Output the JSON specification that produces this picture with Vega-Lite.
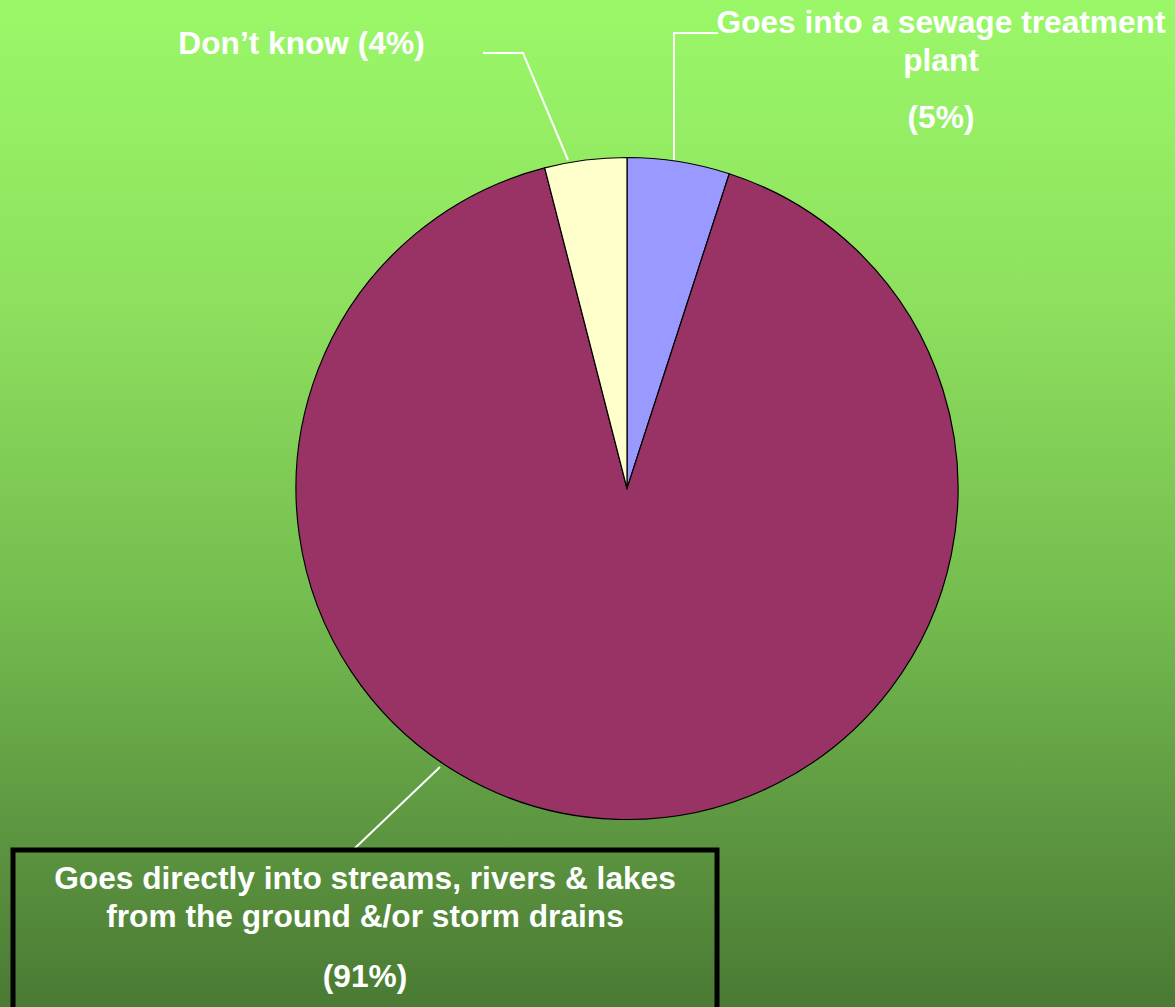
{
  "$schema": "https://vega.github.io/schema/vega-lite/v6.json",
  "width": 1175,
  "height": 1007,
  "autosize": {"type": "fit", "contains": "padding"},
  "padding": 0,
  "config": {"view": {"stroke": null}},
  "datasets": {
    "slices": [
      {"cat": "Goes into a sewage treatment plant", "value": 5, "idx": 1},
      {"cat": "Goes directly into streams, rivers & lakes from the ground &/or storm drains", "value": 91, "idx": 2},
      {"cat": "Don’t know", "value": 4, "idx": 3}
    ],
    "leaders": [
      {"id": "dk", "ord": 1, "x": 483, "y": 53},
      {"id": "dk", "ord": 2, "x": 523, "y": 53},
      {"id": "dk", "ord": 3, "x": 568, "y": 160},
      {"id": "sw", "ord": 1, "x": 674, "y": 160},
      {"id": "sw", "ord": 2, "x": 674, "y": 33},
      {"id": "sw", "ord": 3, "x": 718, "y": 33},
      {"id": "st", "ord": 1, "x": 440, "y": 767},
      {"id": "st", "ord": 2, "x": 354, "y": 849}
    ],
    "labels": [
      {"text": ["Don’t know (4%)"], "x": 301.5, "y": 54},
      {"text": ["Goes into a sewage treatment", "plant"], "x": 941, "y": 33},
      {"text": ["(5%)"], "x": 941, "y": 128},
      {"text": ["Goes directly into streams, rivers & lakes", "from the ground &/or storm drains"], "x": 365, "y": 889},
      {"text": ["(91%)"], "x": 365, "y": 987}
    ],
    "box": [{"x": 13, "x2": 717, "y": 850, "y2": 1012}]
  },
  "layer": [
    {
      "data": {"values": [{}]},
      "mark": {
        "type": "rect",
        "fill": {
          "gradient": "linear",
          "x1": 0, "y1": 0, "x2": 0, "y2": 1,
          "stops": [
            {"offset": 0, "color": "#9AF868"},
            {"offset": 0.3, "color": "#8EE05E"},
            {"offset": 0.6, "color": "#74BC4F"},
            {"offset": 0.85, "color": "#5A923F"},
            {"offset": 1, "color": "#4A7A33"}
          ]
        }
      },
      "encoding": {
        "x": {"datum": 0, "type": "quantitative", "scale": {"domain": [0, 1175], "nice": false, "zero": false}, "axis": null},
        "x2": {"datum": 1175},
        "y": {"datum": 0, "type": "quantitative", "scale": {"domain": [0, 1007], "nice": false, "zero": false, "reverse": true}, "axis": null},
        "y2": {"datum": 1007}
      }
    },
    {
      "data": {"name": "slices"},
      "mark": {"type": "arc", "outerRadius": 331, "stroke": "#000000", "strokeWidth": 1.2},
      "encoding": {
        "x": {"datum": 627, "type": "quantitative"},
        "y": {"datum": 488.5, "type": "quantitative"},
        "theta": {"field": "value", "type": "quantitative", "stack": true},
        "order": {"field": "idx", "type": "quantitative"},
        "color": {
          "field": "cat", "type": "nominal",
          "scale": {
            "domain": ["Goes into a sewage treatment plant", "Goes directly into streams, rivers & lakes from the ground &/or storm drains", "Don’t know"],
            "range": ["#9999FF", "#993366", "#FFFFCC"]
          },
          "legend": null
        }
      }
    },
    {
      "data": {"name": "leaders"},
      "mark": {"type": "line", "color": "#FFFFFF", "strokeWidth": 2},
      "encoding": {
        "x": {"field": "x", "type": "quantitative"},
        "y": {"field": "y", "type": "quantitative"},
        "detail": {"field": "id"},
        "order": {"field": "ord", "type": "quantitative"}
      }
    },
    {
      "data": {"name": "box"},
      "mark": {"type": "rect", "fill": null, "stroke": "#000000", "strokeWidth": 5, "clip": true},
      "encoding": {
        "x": {"field": "x", "type": "quantitative"},
        "x2": {"field": "x2"},
        "y": {"field": "y", "type": "quantitative"},
        "y2": {"field": "y2"}
      }
    },
    {
      "data": {"name": "labels"},
      "mark": {"type": "text", "font": "Liberation Sans", "fontWeight": "bold", "fontSize": 31.7, "color": "#FFFFFF", "align": "center", "baseline": "alphabetic", "lineHeight": 38},
      "encoding": {
        "x": {"field": "x", "type": "quantitative"},
        "y": {"field": "y", "type": "quantitative"},
        "text": {"field": "text"}
      }
    }
  ]
}
